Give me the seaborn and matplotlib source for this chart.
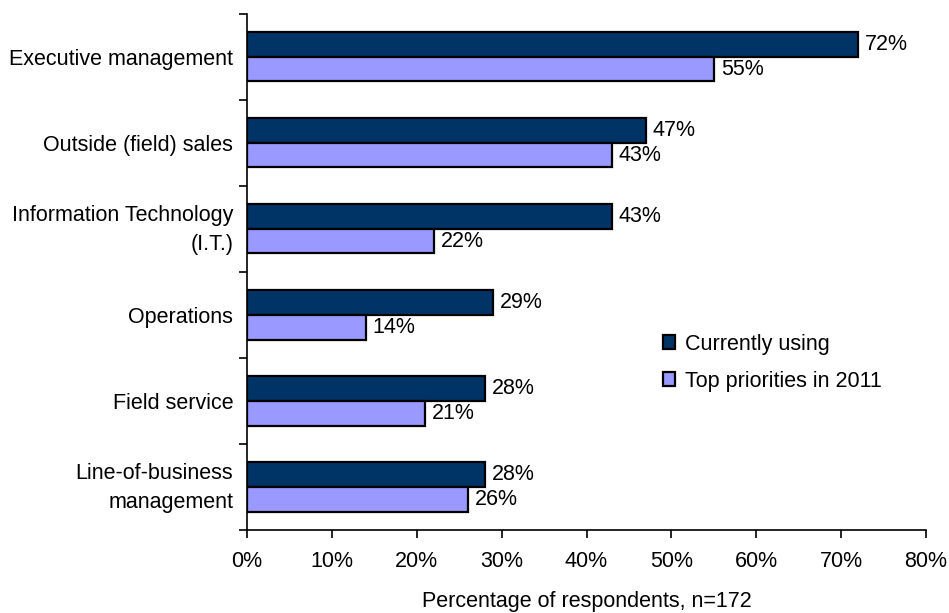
import matplotlib
matplotlib.use("Agg")
import matplotlib.pyplot as plt
import matplotlib.transforms as mtransforms
import seaborn as sns
import pandas as pd
import numpy as np

categories = [
    "Executive management",
    "Outside (field) sales",
    "Information Technology\n(I.T.)",
    "Operations",
    "Field service",
    "Line-of-business\nmanagement",
]
currently_using = [72, 47, 43, 29, 28, 28]
top_priorities = [55, 43, 22, 14, 21, 26]
series_names = ["Currently using", "Top priorities in 2011"]
x_ticks = [0, 10, 20, 30, 40, 50, 60, 70, 80]

sns.set_theme(style="white")
plt.rcParams["font.family"] = ["Liberation Sans", "DejaVu Sans"]
plt.rcParams["text.color"] = "black"
plt.rcParams["xtick.color"] = "black"
plt.rcParams["ytick.color"] = "black"
plt.rcParams["axes.labelcolor"] = "black"

FS = 15.5

df = pd.DataFrame({
    "category": categories * 2,
    "series": [series_names[0]] * len(categories) + [series_names[1]] * len(categories),
    "value": currently_using + top_priorities,
})

fig = plt.figure(figsize=(9.49, 6.13), dpi=100)
ax = fig.add_axes([0.2603, 0.1354, 0.9758 - 0.2603, 0.9772 - 0.1354])

palette = {series_names[0]: "#003366", series_names[1]: "#9999FF"}
sns.barplot(data=df, y="category", x="value", hue="series", order=categories,
            hue_order=series_names, palette=palette, orient="h", width=0.57,
            edgecolor="black", linewidth=1.6, saturation=1, ax=ax)

for cont in ax.containers:
    ax.bar_label(cont, labels=[f"{v:.0f}%" for v in cont.datavalues],
                 padding=5, fontsize=FS, color="black")

ax.set_xlim(0, 80)
ax.set_ylim(len(categories) - 0.5, -0.5)
ax.set_xticks(x_ticks)
ax.set_xticklabels([f"{t}%" for t in x_ticks], fontsize=FS)
ax.set_yticks(range(len(categories)))
ax.set_yticklabels(categories, fontsize=FS, ha="right", multialignment="right", linespacing=1.45)
ax.tick_params(axis="y", which="major", length=0, pad=10)
ax.set_yticks(np.arange(-0.5, len(categories), 1), minor=True)
ax.tick_params(axis="y", which="minor", length=6, width=1.2, direction="out", color="black", left=True)
ax.tick_params(axis="x", which="major", length=6, width=1.2, direction="out", color="black",
               bottom=True, pad=9)

# two-line category labels sit a little higher
lift = mtransforms.ScaledTranslation(0, 5 / 100, fig.dpi_scale_trans)
for lbl in ax.get_yticklabels():
    if "\n" in lbl.get_text():
        lbl.set_transform(lbl.get_transform() + lift)

for side in ["top", "right"]:
    ax.spines[side].set_visible(False)
for side in ["left", "bottom"]:
    ax.spines[side].set_color("black")
    ax.spines[side].set_linewidth(1.2)

ax.set_ylabel("")
ax.set_xlabel("Percentage of respondents, n=172", fontsize=FS, labelpad=14)

leg = ax.legend(loc="center left", bbox_to_anchor=(0.612, 0.324), frameon=False, fontsize=FS,
                handlelength=0.6, handleheight=0.6, handletextpad=0.45, labelspacing=0.75,
                borderaxespad=0, borderpad=0)

fig.savefig("out.png", dpi=100)
